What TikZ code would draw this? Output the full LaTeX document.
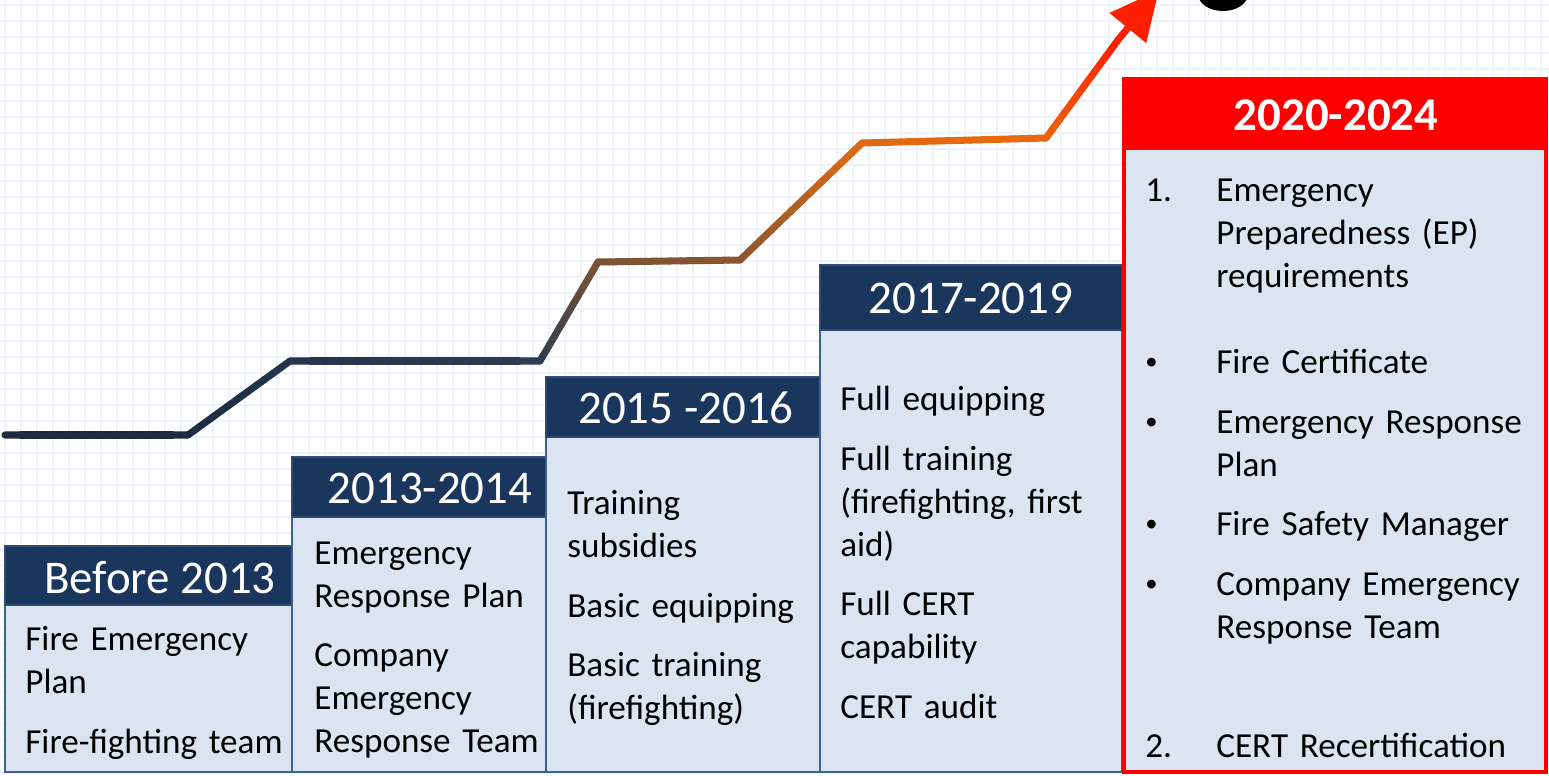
\documentclass[tikz,border=0pt]{standalone}
\usepackage{fontspec}
\setmainfont{Carlito}
\usetikzlibrary{calc,arrows.meta}

\definecolor{navyhead}{HTML}{1B365D}
\definecolor{navyedge}{HTML}{2E4B72}
\definecolor{bodyfill}{HTML}{DBE5F1}
\definecolor{bodyedge}{HTML}{3F5F8E}
\definecolor{gridblue}{HTML}{EEF3FA}
\definecolor{boxred}{HTML}{FF0000}
\definecolor{lnA}{HTML}{1C2B42}
\definecolor{lnB}{HTML}{24344C}
\definecolor{lnC}{HTML}{2E3B52}
\definecolor{lnD}{HTML}{7A5236}
\definecolor{lnE}{HTML}{8A5630}
\definecolor{lnF}{HTML}{E06A14}
\definecolor{lnG}{HTML}{E8680C}
\definecolor{lnH}{HTML}{FF1E00}

\tikzset{
	gridline/.style={gridblue, line width=0.85pt},
	headbox/.style={fill=navyhead, draw=navyedge, line width=1.2pt},
	bodybox/.style={fill=bodyfill, draw=bodyedge, line width=1.5pt},
	yearlabel/.style={text=white, inner sep=0pt, anchor=base, font=\fontsize{26.7}{30}\selectfont},
	itemtext/.style={inner sep=0pt, anchor=base west, align=left, text width=8cm, font=\fontsize{20}{24.5}\selectfont},
	marker/.style={inner sep=0pt, anchor=base west, font=\fontsize{20}{24.5}\selectfont},
	dotmark/.style={inner sep=0pt, anchor=base west, font=\fontsize{14}{16}\selectfont},
	trend/.style={line width=4pt, line cap=round},
}

\begin{document}
\begin{tikzpicture}[x=0.02cm, y=-0.02cm]
	\useasboundingbox (0,0) rectangle (1549,775);
	\clip (0,0) rectangle (1549,775);
	\fill[white] (0,0) rectangle (1549,775);

	%Grid
	\foreach \gx in {5,21,...,1549}
		\draw[gridline] (\gx,0) -- (\gx,775);
	\foreach \gy in {5,21,...,775}
		\draw[gridline] (0,\gy) -- (1549,\gy);

	%Trend
	\coordinate (p0) at (5,435);
	\coordinate (p1) at (188,435);
	\coordinate (p2) at (290,361);
	\coordinate (p3) at (540,361);
	\coordinate (p4) at (598,262);
	\coordinate (p5) at (740,260);
	\coordinate (p6) at (862,143);
	\coordinate (p7) at (1046,138);
	\coordinate (p8) at (1118,40);
	\coordinate (tip) at (1159,-10);
	\foreach \a/\b/\ca/\cb in {p0/p1/lnA/lnA, p1/p2/lnA/lnB, p2/p3/lnB/lnC, p3/p4/lnC/lnD, p4/p5/lnD/lnE, p5/p6/lnE/lnF, p6/p7/lnF/lnG, p7/p8/lnG/lnH}
		\foreach \k in {0,...,11} {
			\pgfmathsetmacro\s{\k/12}
			\pgfmathsetmacro\e{(\k+1)/12}
			\pgfmathtruncatemacro\m{100-(\k+0.5)*100/12}
			\draw[trend, \ca!\m!\cb] ($(\a)!\s!(\b)$) -- ($(\a)!\e!(\b)$);
		}
	\draw[line width=4pt, lnH, -{Triangle[length=28pt,width=26pt]}] (p8) -- (tip);
	\fill[black] (1223,-6) ellipse [x radius=0.5cm, y radius=0.34cm];

	%Columns
	\draw[bodybox] (5,605) rectangle (292,772);
	\draw[headbox] (5,546) rectangle (292,605);
	\draw[bodybox] (292,517) rectangle (546,772);
	\draw[headbox] (292,457) rectangle (546,517);
	\draw[bodybox] (546,437) rectangle (820,772);
	\draw[headbox] (546,377) rectangle (820,437);
	\draw[bodybox] (820,330) rectangle (1122,772);
	\draw[headbox] (820,265) rectangle (1122,330);
	\draw[fill=bodyfill, draw=boxred, line width=2.8pt] (1124,79) rectangle (1546,772);
	\fill[boxred] (1124,79) rectangle (1546,150);

	%Years
	\node[yearlabel] (y1) at (160,593) {Before 2013};
	\node[yearlabel] (y2) at (430,503) {2013-2014};
	\node[yearlabel] (y3) at (686,423) {2015 -2016};
	\node[yearlabel] (y4) at (971,313) {2017-2019};
	\node[yearlabel, font=\fontsize{26.7}{30}\selectfont\bfseries] (y5) at (1336,130) {2020-2024};

	%Before 2013
	\node[itemtext] (fep) at (25,650) {Fire Emergency\\Plan};
	\node[itemtext] (fft) at (25,753) {Fire-fighting team};

	%2013-2014
	\node[itemtext] (erp) at (314,564) {Emergency\\Response Plan};
	\node[itemtext] (cert1) at (314,666) {Company\\Emergency\\Response Team};

	%2015-2016
	\node[itemtext] (sub) at (567,514) {Training\\subsidies};
	\node[itemtext] (beq) at (567,617) {Basic equipping};
	\node[itemtext] (btr) at (567,676) {Basic training\\(firefighting)};

	%2017-2019
	\node[itemtext] (feq) at (840,410) {Full equipping};
	\node[itemtext] (ftr) at (840,470) {Full training\\(firefighting, first\\aid)};
	\node[itemtext] (fcc) at (840,615) {Full CERT\\capability};
	\node[itemtext] (cau) at (840,718) {CERT audit};

	%2020-2024
	\node[marker] (n1) at (1145,201) {1.};
	\node[itemtext] (epr) at (1216,201) {Emergency\\Preparedness (EP)\\requirements};
	\node[dotmark] (b1) at (1145,369) {\textbullet};
	\node[itemtext] (fce) at (1216,373) {Fire Certificate};
	\node[dotmark] (b2) at (1145,429) {\textbullet};
	\node[itemtext] (erp2) at (1216,433) {Emergency Response\\Plan};
	\node[dotmark] (b3) at (1145,531) {\textbullet};
	\node[itemtext] (fsm) at (1216,535) {Fire Safety Manager};
	\node[dotmark] (b4) at (1145,591) {\textbullet};
	\node[itemtext] (cert2) at (1216,595) {Company Emergency\\Response Team};
	\node[marker] (n2) at (1145,757) {2.};
	\node[itemtext] (rec) at (1216,757) {CERT Recertification};
\end{tikzpicture}
\end{document}
